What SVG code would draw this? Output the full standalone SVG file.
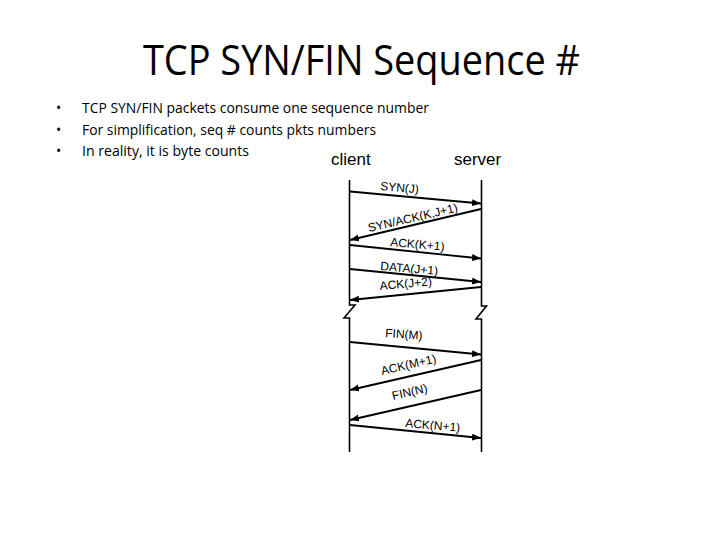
<svg xmlns="http://www.w3.org/2000/svg" width="720" height="540" viewBox="0 0 720 540">
<style>
.title{font-family:"Open Sans","Liberation Sans",sans-serif;font-size:42px;fill:#000}
.bul{font-family:"Open Sans","Liberation Sans",sans-serif;font-size:14px;fill:#000}
.ep{font-family:"Liberation Sans",Arial,sans-serif;font-size:17px;fill:#000}
.lbl{font-family:"Liberation Sans",Arial,sans-serif;font-size:12px;fill:#000}
.life{fill:none;stroke:#000;stroke-width:1.6}
.msg{fill:none;stroke:#000;stroke-width:1.8;marker-end:url(#ah)}
</style>
<defs>
<marker id="ah" markerUnits="userSpaceOnUse" markerWidth="10" markerHeight="8" refX="9" refY="3.5" orient="auto">
<path d="M0,0 L9,3.5 L0,7 z" fill="#000"/>
</marker>
</defs>
<rect width="720" height="540" fill="#fff"/>
<g id="title">
<text class="title" x="143" y="75" textLength="437" lengthAdjust="spacingAndGlyphs">TCP SYN/FIN Sequence #</text>
</g>
<g id="bullets">
<text class="bul" x="56" y="113">•</text>
<text class="bul" x="56" y="135">•</text>
<text class="bul" x="56" y="156">•</text>
<text class="bul" x="82" y="113" textLength="347" lengthAdjust="spacingAndGlyphs">TCP SYN/FIN packets consume one sequence number</text>
<text class="bul" x="82" y="135" textLength="294" lengthAdjust="spacingAndGlyphs">For simplification, seq # counts pkts numbers</text>
<text class="bul" x="82" y="156" textLength="167" lengthAdjust="spacingAndGlyphs">In reality, it is byte counts</text>
</g>
<g id="client">
<text class="ep" x="331" y="165">client</text>
<path class="life" d="M349.5,180 V305 H355 L344,318 H349.5 V452"/>
</g>
<g id="server">
<text class="ep" x="454" y="165">server</text>
<path class="life" d="M481.5,180 V306 H486.5 L476,319 H481.5 V452"/>
</g>
<g id="connectors">
<line class="msg" x1="350" y1="191.5" x2="481" y2="203.5"/>
<line class="msg" x1="481" y1="209" x2="350" y2="240"/>
<line class="msg" x1="350" y1="245" x2="481" y2="258.5"/>
<line class="msg" x1="350" y1="269" x2="481" y2="282"/>
<line class="msg" x1="481" y1="287" x2="350" y2="300"/>
<line class="msg" x1="350" y1="342" x2="481" y2="354.5"/>
<line class="msg" x1="481" y1="360" x2="350" y2="390"/>
<line class="msg" x1="481" y1="390" x2="350" y2="420"/>
<line class="msg" x1="350" y1="425" x2="481" y2="438"/>
</g>
<g id="labels">
<text class="lbl" x="380" y="190" transform="rotate(5 380 190)">SYN(J)</text>
<text class="lbl" x="369" y="232" transform="rotate(-13 369 232)">SYN/ACK(K,J+1)</text>
<text class="lbl" x="390" y="246" transform="rotate(5 390 246)">ACK(K+1)</text>
<text class="lbl" x="380" y="270" transform="rotate(5 380 270)">DATA(J+1)</text>
<text class="lbl" x="380" y="290" transform="rotate(-5 380 290)">ACK(J+2)</text>
<text class="lbl" x="385" y="337" transform="rotate(4 385 337)">FIN(M)</text>
<text class="lbl" x="382" y="375" transform="rotate(-13 382 375)">ACK(M+1)</text>
<text class="lbl" x="393" y="400" transform="rotate(-13 393 400)">FIN(N)</text>
<text class="lbl" x="405" y="427" transform="rotate(5 405 427)">ACK(N+1)</text>
</g>
</svg>
